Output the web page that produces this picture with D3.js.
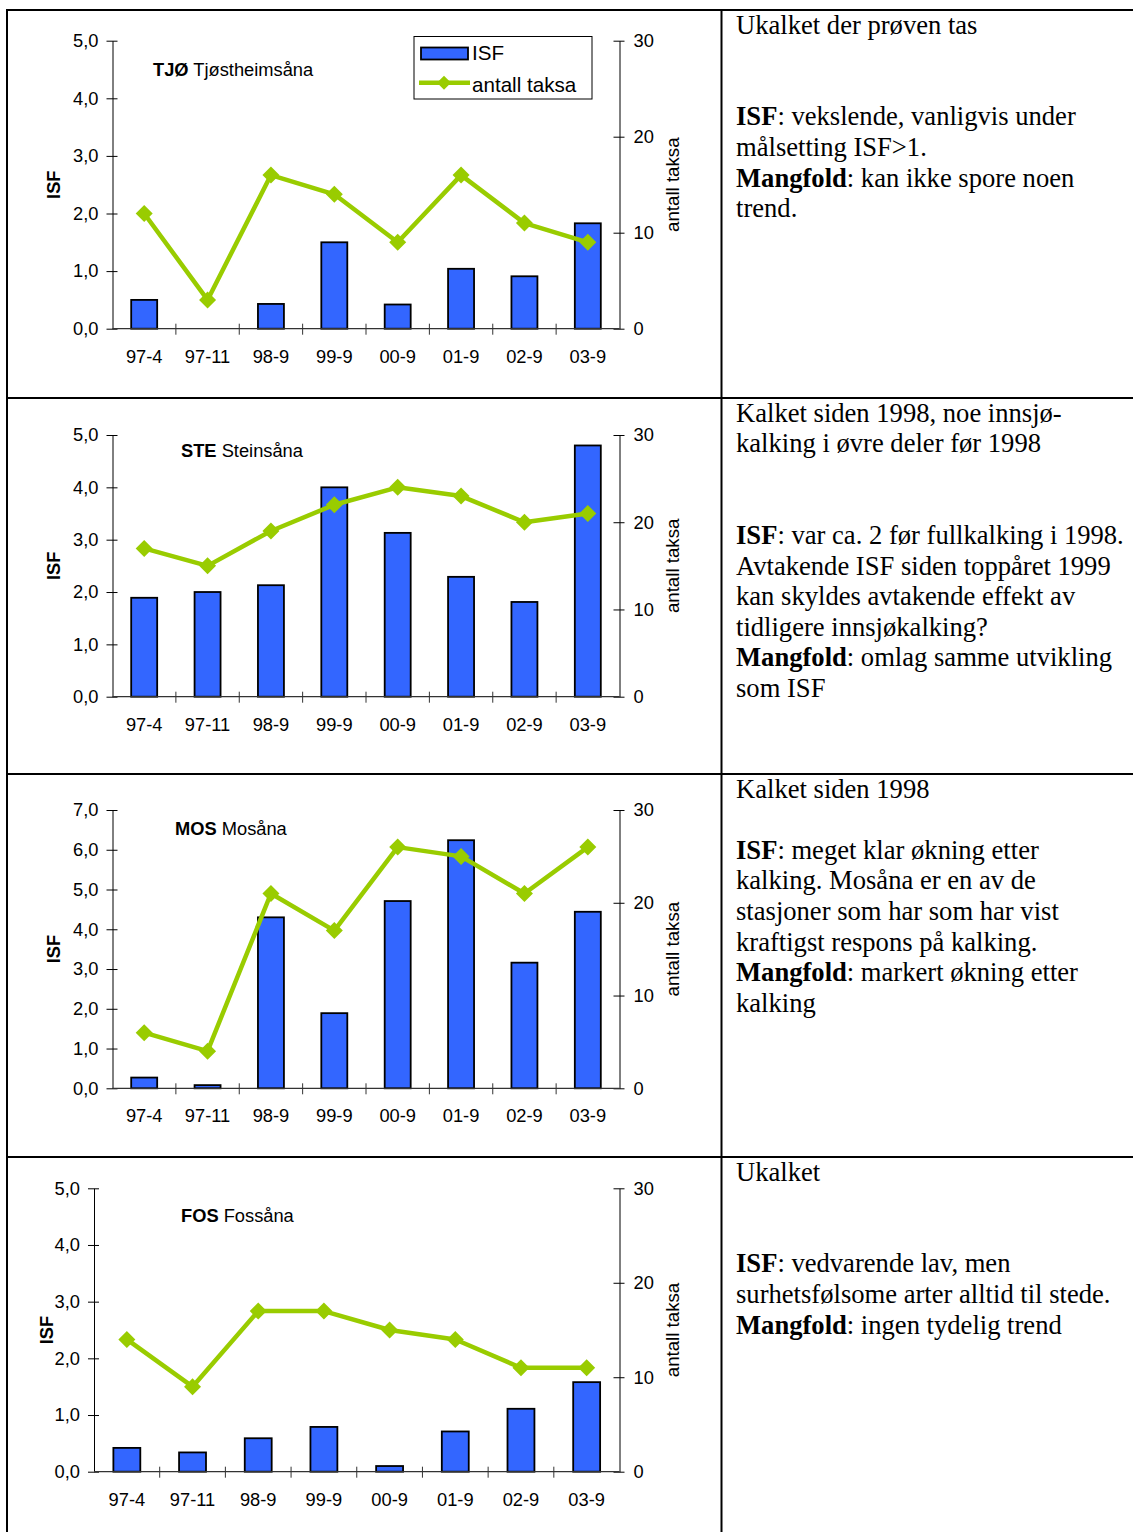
<!DOCTYPE html>
<html><head><meta charset="utf-8">
<script src="https://cdn.jsdelivr.net/npm/d3@7"></script>
<style>body{margin:0;background:#fff}svg{display:block}</style>
</head><body><svg id="c" width="1133" height="1532"></svg>
<script>
// ---- data ----
const categories = ["97-4","97-11","98-9","99-9","00-9","01-9","02-9","03-9"];
const stationCodes = ["TJØ","STE","MOS","FOS"];
const stationNames = ["Tjøstheimsåna","Steinsåna","Mosåna","Fossåna"];
const isfTJO = [0.50, 0, 0.43, 1.50, 0.42, 1.04, 0.91, 1.83];
const taksaTJO = [12, 3, 16, 14, 9, 16, 11, 9];
const isfSTE = [1.89, 2.00, 2.13, 4.00, 3.13, 2.29, 1.81, 4.80];
const taksaSTE = [17, 15, 19, 22, 24, 23, 20, 21];
const isfMOS = [0.27, 0.08, 4.30, 1.89, 4.71, 6.24, 3.16, 4.44];
const taksaMOS = [6, 4, 21, 17, 26, 25, 21, 26];
const isfFOS = [0.42, 0.34, 0.59, 0.79, 0.10, 0.71, 1.11, 1.58];
const taksaFOS = [14, 9, 17, 17, 15, 14, 11, 11];
const isfMax = [5, 5, 7, 5];
const taksaMax = 30;
const taksaTicks = [0, 10, 20, 30];
const legendLabels = ["ISF", "antall taksa"];
const axisTitleLeft = "ISF";
const axisTitleRight = "antall taksa";
const comments1 = ["Ukalket der prøven tas", "", "", "**ISF**: vekslende, vanligvis under", "målsetting ISF>1.", "**Mangfold**: kan ikke spore noen", "trend."];
const comments2 = ["Kalket siden 1998, noe innsjø-", "kalking i øvre deler før 1998", "", "", "**ISF**: var ca. 2 før fullkalking i 1998.", "Avtakende ISF siden toppåret 1999", "kan skyldes avtakende effekt av", "tidligere innsjøkalking?", "**Mangfold**: omlag samme utvikling", "som ISF"];
const comments3 = ["Kalket siden 1998", "", "**ISF**: meget klar økning etter", "kalking. Mosåna er en av de", "stasjoner som har som har vist", "kraftigst respons på kalking.", "**Mangfold**: markert økning etter", "kalking"];
const comments4 = ["Ukalket", "", "", "**ISF**: vedvarende lav, men", "surhetsfølsome arter alltid til stede.", "**Mangfold**: ingen tydelig trend"];

const isfSeries = [isfTJO, isfSTE, isfMOS, isfFOS];
const taksaSeries = [taksaTJO, taksaSTE, taksaMOS, taksaFOS];
const commentSeries = [comments1, comments2, comments3, comments4];

// ---- layout ----
const rowTops = [10, 398, 774, 1157];
const layout = [
  {left:112.5, right:619.5, y0:328.7, y1:40.7, isfLabelX:53, titleX:153, titleY:76},
  {left:112.5, right:619.5, y0:696.7, y1:435, isfLabelX:53, titleX:181, titleY:457},
  {left:112.5, right:619.5, y0:1088.3, y1:810, isfLabelX:53, titleX:175, titleY:835},
  {left:94, right:619.5, y0:1471.7, y1:1188.3, isfLabelX:46, titleX:181, titleY:1222}
];
const SANS = "'Liberation Sans', Arial, sans-serif";
const SERIF = "'Liberation Serif', 'Times New Roman', serif";
const BAR = "#3366ff", LINE = "#99cc00";
const fs = 18.3;

const svg = d3.select("#c");
svg.append("rect").attr("width",1133).attr("height",1532).attr("fill","#fff");

const fmt = v => d3.format(".1f")(v).replace(".", ",");
const diamond = r => `M0,${-r}L${r},0L0,${r}L${-r},0Z`;

layout.forEach((L, i) => {
  const g = svg.append("g");
  const x = d3.scaleBand().domain(categories).range([L.left, L.right]).padding(0);
  const yL = d3.scaleLinear().domain([0, isfMax[i]]).range([L.y0, L.y1]);
  const yR = d3.scaleLinear().domain([0, taksaMax]).range([L.y0, L.y1]);
  const bw = x.bandwidth() * 0.41;

  // bars
  g.selectAll("rect.bar").data(isfSeries[i].map((v, k) => ({c: categories[k], v})).filter(d => d.v > 0))
    .join("rect").attr("class","bar")
    .attr("x", d => x(d.c) + (x.bandwidth() - bw) / 2)
    .attr("width", bw)
    .attr("y", d => yL(d.v))
    .attr("height", d => yL(0) - yL(d.v))
    .attr("fill", BAR).attr("stroke", "#000").attr("stroke-width", 1.8);

  // left axis
  const ax = g.append("g").attr("transform", `translate(${L.left},0)`)
    .call(d3.axisLeft(yL).tickValues(d3.range(0, isfMax[i] + 1)).tickFormat(fmt).tickSizeInner(6).tickSizeOuter(0).tickPadding(8));
  ax.selectAll(".tick line").attr("x1", 5);
  // right axis
  const ar = g.append("g").attr("transform", `translate(${L.right},0)`)
    .call(d3.axisRight(yR).tickValues(taksaTicks).tickSizeInner(5).tickSizeOuter(0).tickPadding(9));
  ar.selectAll(".tick line").attr("x1", -6);
  // bottom axis line + boundary ticks
  g.append("line").attr("x1", L.left).attr("x2", L.right).attr("y1", L.y0).attr("y2", L.y0)
    .attr("stroke", "#333").attr("stroke-width", 1.2);
  g.selectAll("line.ct").data(categories.slice(1)).join("line").attr("class","ct")
    .attr("x1", d => x(d)).attr("x2", d => x(d))
    .attr("y1", L.y0 - 5).attr("y2", L.y0 + 6).attr("stroke", "#333");
  g.selectAll("text.cl").data(categories).join("text").attr("class","cl")
    .attr("x", d => x(d) + x.bandwidth() / 2).attr("y", L.y0 + 34)
    .attr("text-anchor", "middle").text(d => d);

  [ax, ar].forEach(a => { a.selectAll(".domain").attr("stroke","#000"); a.selectAll(".tick line").attr("stroke","#000"); });
  g.selectAll("text").attr("font-family", SANS).attr("font-size", fs).attr("fill", "#000");

  // line series
  const pts = taksaSeries[i].map((v, k) => [x(categories[k]) + x.bandwidth() / 2, yR(v)]);
  g.append("path").attr("d", d3.line()(pts)).attr("fill", "none")
    .attr("stroke", LINE).attr("stroke-width", 4.5).attr("stroke-linejoin", "round");
  g.selectAll("path.mk").data(pts).join("path").attr("class","mk")
    .attr("transform", d => `translate(${d[0]},${d[1]})`).attr("d", diamond(8.5)).attr("fill", LINE);

  // axis titles
  const ym = (L.y0 + L.y1) / 2;
  g.append("text").attr("transform", `translate(${L.isfLabelX},${ym}) rotate(-90)`)
    .attr("text-anchor","middle").attr("dominant-baseline","central")
    .attr("font-family", SANS).attr("font-size", fs).attr("font-weight","bold").text(axisTitleLeft);
  g.append("text").attr("transform", `translate(672.6,${ym}) rotate(-90)`)
    .attr("text-anchor","middle").attr("dominant-baseline","central")
    .attr("font-family", SANS).attr("font-size", fs + 0.4).text(axisTitleRight);

  // station title
  const t = g.append("text").attr("x", L.titleX).attr("y", L.titleY).attr("font-family", SANS).attr("font-size", fs);
  t.append("tspan").attr("font-weight","bold").text(stationCodes[i]);
  t.append("tspan").text(" " + stationNames[i]);

  // comments
  const cg = svg.append("g");
  commentSeries[i].forEach((line, k) => {
    if (!line) return;
    const tx = cg.append("text").attr("x", 736).attr("y", rowTops[i] + 23.5 + k * 30.6)
      .attr("font-family", SERIF).attr("font-size", 26.6).attr("fill", "#000");
    line.split("**").forEach((seg, j) => {
      if (seg) tx.append("tspan").attr("font-weight", j % 2 ? "bold" : "normal").text(seg);
    });
  });
});

// legend (panel 1)
const lg = svg.append("g");
lg.append("rect").attr("x", 414).attr("y", 36.5).attr("width", 178).attr("height", 62.5)
  .attr("fill", "#fff").attr("stroke", "#000").attr("stroke-width", 1);
lg.append("rect").attr("x", 421).attr("y", 47.5).attr("width", 47).attr("height", 12)
  .attr("fill", BAR).attr("stroke", "#000").attr("stroke-width", 1.8);
lg.append("line").attr("x1", 419).attr("x2", 470).attr("y1", 82.7).attr("y2", 82.7)
  .attr("stroke", LINE).attr("stroke-width", 4.5);
lg.append("path").attr("transform", "translate(444,82.7)").attr("d", diamond(7)).attr("fill", LINE);
lg.selectAll("text").data(legendLabels).join("text")
  .attr("x", 472).attr("y", (d, k) => k ? 91.5 : 59.5)
  .attr("font-family", SANS).attr("font-size", 20.6).text(d => d);

// table borders
const B = svg.append("g").attr("stroke", "#000").attr("stroke-width", 2);
B.append("line").attr("x1", 7).attr("x2", 7).attr("y1", 9).attr("y2", 1532);
B.append("line").attr("x1", 721.5).attr("x2", 721.5).attr("y1", 9).attr("y2", 1532);
rowTops.forEach(y => B.append("line").attr("x1", 6).attr("x2", 1133).attr("y1", y).attr("y2", y));
</script></body></html>
